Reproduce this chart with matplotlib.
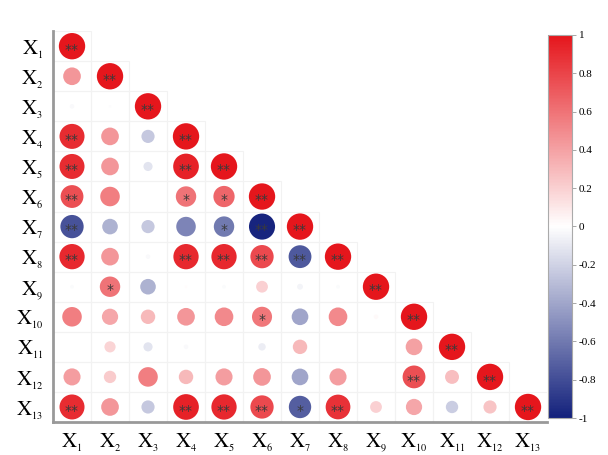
import numpy as np
import matplotlib
matplotlib.use("Agg")
import matplotlib.pyplot as plt
from matplotlib.colors import LinearSegmentedColormap
from matplotlib.patches import Rectangle

plt.rcParams['mathtext.fontset'] = 'stix'
plt.rcParams['font.family'] = ['Liberation Serif', 'DejaVu Serif']

labels = [r'$\mathrm{X}_{{}_{%d}}$' % i for i in range(1, 14)]

# lower triangle of correlation matrix, row by row
rows = [
    [1.0],
    [0.45, 1.0],
    [-0.03, -0.01, 1.0],
    [0.9, 0.45, -0.25, 1.0],
    [0.9, 0.45, -0.12, 0.95, 1.0],
    [0.75, 0.55, 0.0, 0.6, 0.65, 1.0],
    [-0.78, -0.35, -0.25, -0.55, -0.6, -0.98, 1.0],
    [0.92, 0.45, -0.03, 0.92, 0.92, 0.78, -0.75, 1.0],
    [-0.02, 0.6, -0.35, 0.01, -0.02, 0.2, -0.05, -0.02, 1.0],
    [0.55, 0.38, 0.3, 0.45, 0.5, 0.58, -0.4, 0.5, 0.03, 1.0],
    [0.0, 0.18, -0.12, -0.03, 0.0, -0.08, 0.3, 0.0, 0.0, 0.4, 1.0],
    [0.42, 0.22, 0.55, 0.3, 0.42, 0.45, -0.4, 0.42, 0.0, 0.75, 0.28, 1.0],
    [0.9, 0.45, -0.25, 0.95, 0.92, 0.78, -0.72, 0.88, 0.2, 0.38, -0.22, 0.25, 1.0],
]

# significance marks, same shape
stars = [
    ['**'],
    ['', '**'],
    ['', '', '**'],
    ['**', '', '', '**'],
    ['**', '', '', '**', '**'],
    ['**', '', '', '*', '*', '**'],
    ['**', '', '', '', '*', '**', '**'],
    ['**', '', '', '**', '**', '**', '**', '**'],
    ['', '*', '', '', '', '', '', '', '**'],
    ['', '', '', '', '', '*', '', '', '', '**'],
    ['', '', '', '', '', '', '', '', '', '', '**'],
    ['', '', '', '', '', '', '', '', '', '**', '', '**'],
    ['**', '', '', '**', '**', '**', '*', '**', '', '', '', '', '**'],
]

cmap = LinearSegmentedColormap.from_list('bwr2', ['#13217c', '#ffffff', '#e5161c'])

xs, ys, vals = [], [], []
for i, r in enumerate(rows):
    for j, v in enumerate(r):
        xs.append(j)
        ys.append(i)
        vals.append(v)
xs = np.array(xs)
ys = np.array(ys)
vals = np.array(vals)

fig = plt.figure(figsize=(6.08, 4.55), dpi=100)
ax = fig.add_axes([0.0872, 0.0725, 0.8125, 0.859])

for x, y in zip(xs, ys):
    ax.add_patch(Rectangle((x - 0.5, y - 0.5), 1, 1, fill=False,
                           edgecolor='#f2f2f2', linewidth=0.8, zorder=1))

sc = ax.scatter(xs, ys, s=360 * np.abs(vals), c=vals, cmap=cmap, vmin=-1, vmax=1,
                edgecolors='none', zorder=2)

for i, r in enumerate(stars):
    for j, s in enumerate(r):
        if s:
            ax.text(j, i + 0.12, s, ha='center', va='center', fontsize=10,
                    color='#3a3a3a', zorder=3, fontfamily='DejaVu Sans')

ax.set_xlim(-0.5, 12.5)
ax.set_ylim(12.5, -0.5)
ax.set_xticks(range(13))
ax.set_yticks(range(13))
ax.set_xticklabels(labels, fontsize=15)
ax.set_yticklabels(labels, fontsize=15)
ax.tick_params(length=0, pad=7)
for side in ['top', 'right']:
    ax.spines[side].set_visible(False)
for side in ['left', 'bottom']:
    ax.spines[side].set_color('#999999')
    ax.spines[side].set_linewidth(2)

cax = fig.add_axes([0.901, 0.0813, 0.0395, 0.842])
cb = fig.colorbar(sc, cax=cax)
cb.set_ticks([-1, -0.8, -0.6, -0.4, -0.2, 0, 0.2, 0.4, 0.6, 0.8, 1])
cb.set_ticklabels(['-1', '-0.8', '-0.6', '-0.4', '-0.2', '0', '0.2', '0.4', '0.6', '0.8', '1'])
cb.ax.tick_params(labelsize=8, length=3, width=0.6, color='#999999', pad=2)
cb.outline.set_edgecolor('#aaaaaa')
cb.outline.set_linewidth(0.8)

fig.savefig('out.png', dpi=100)
